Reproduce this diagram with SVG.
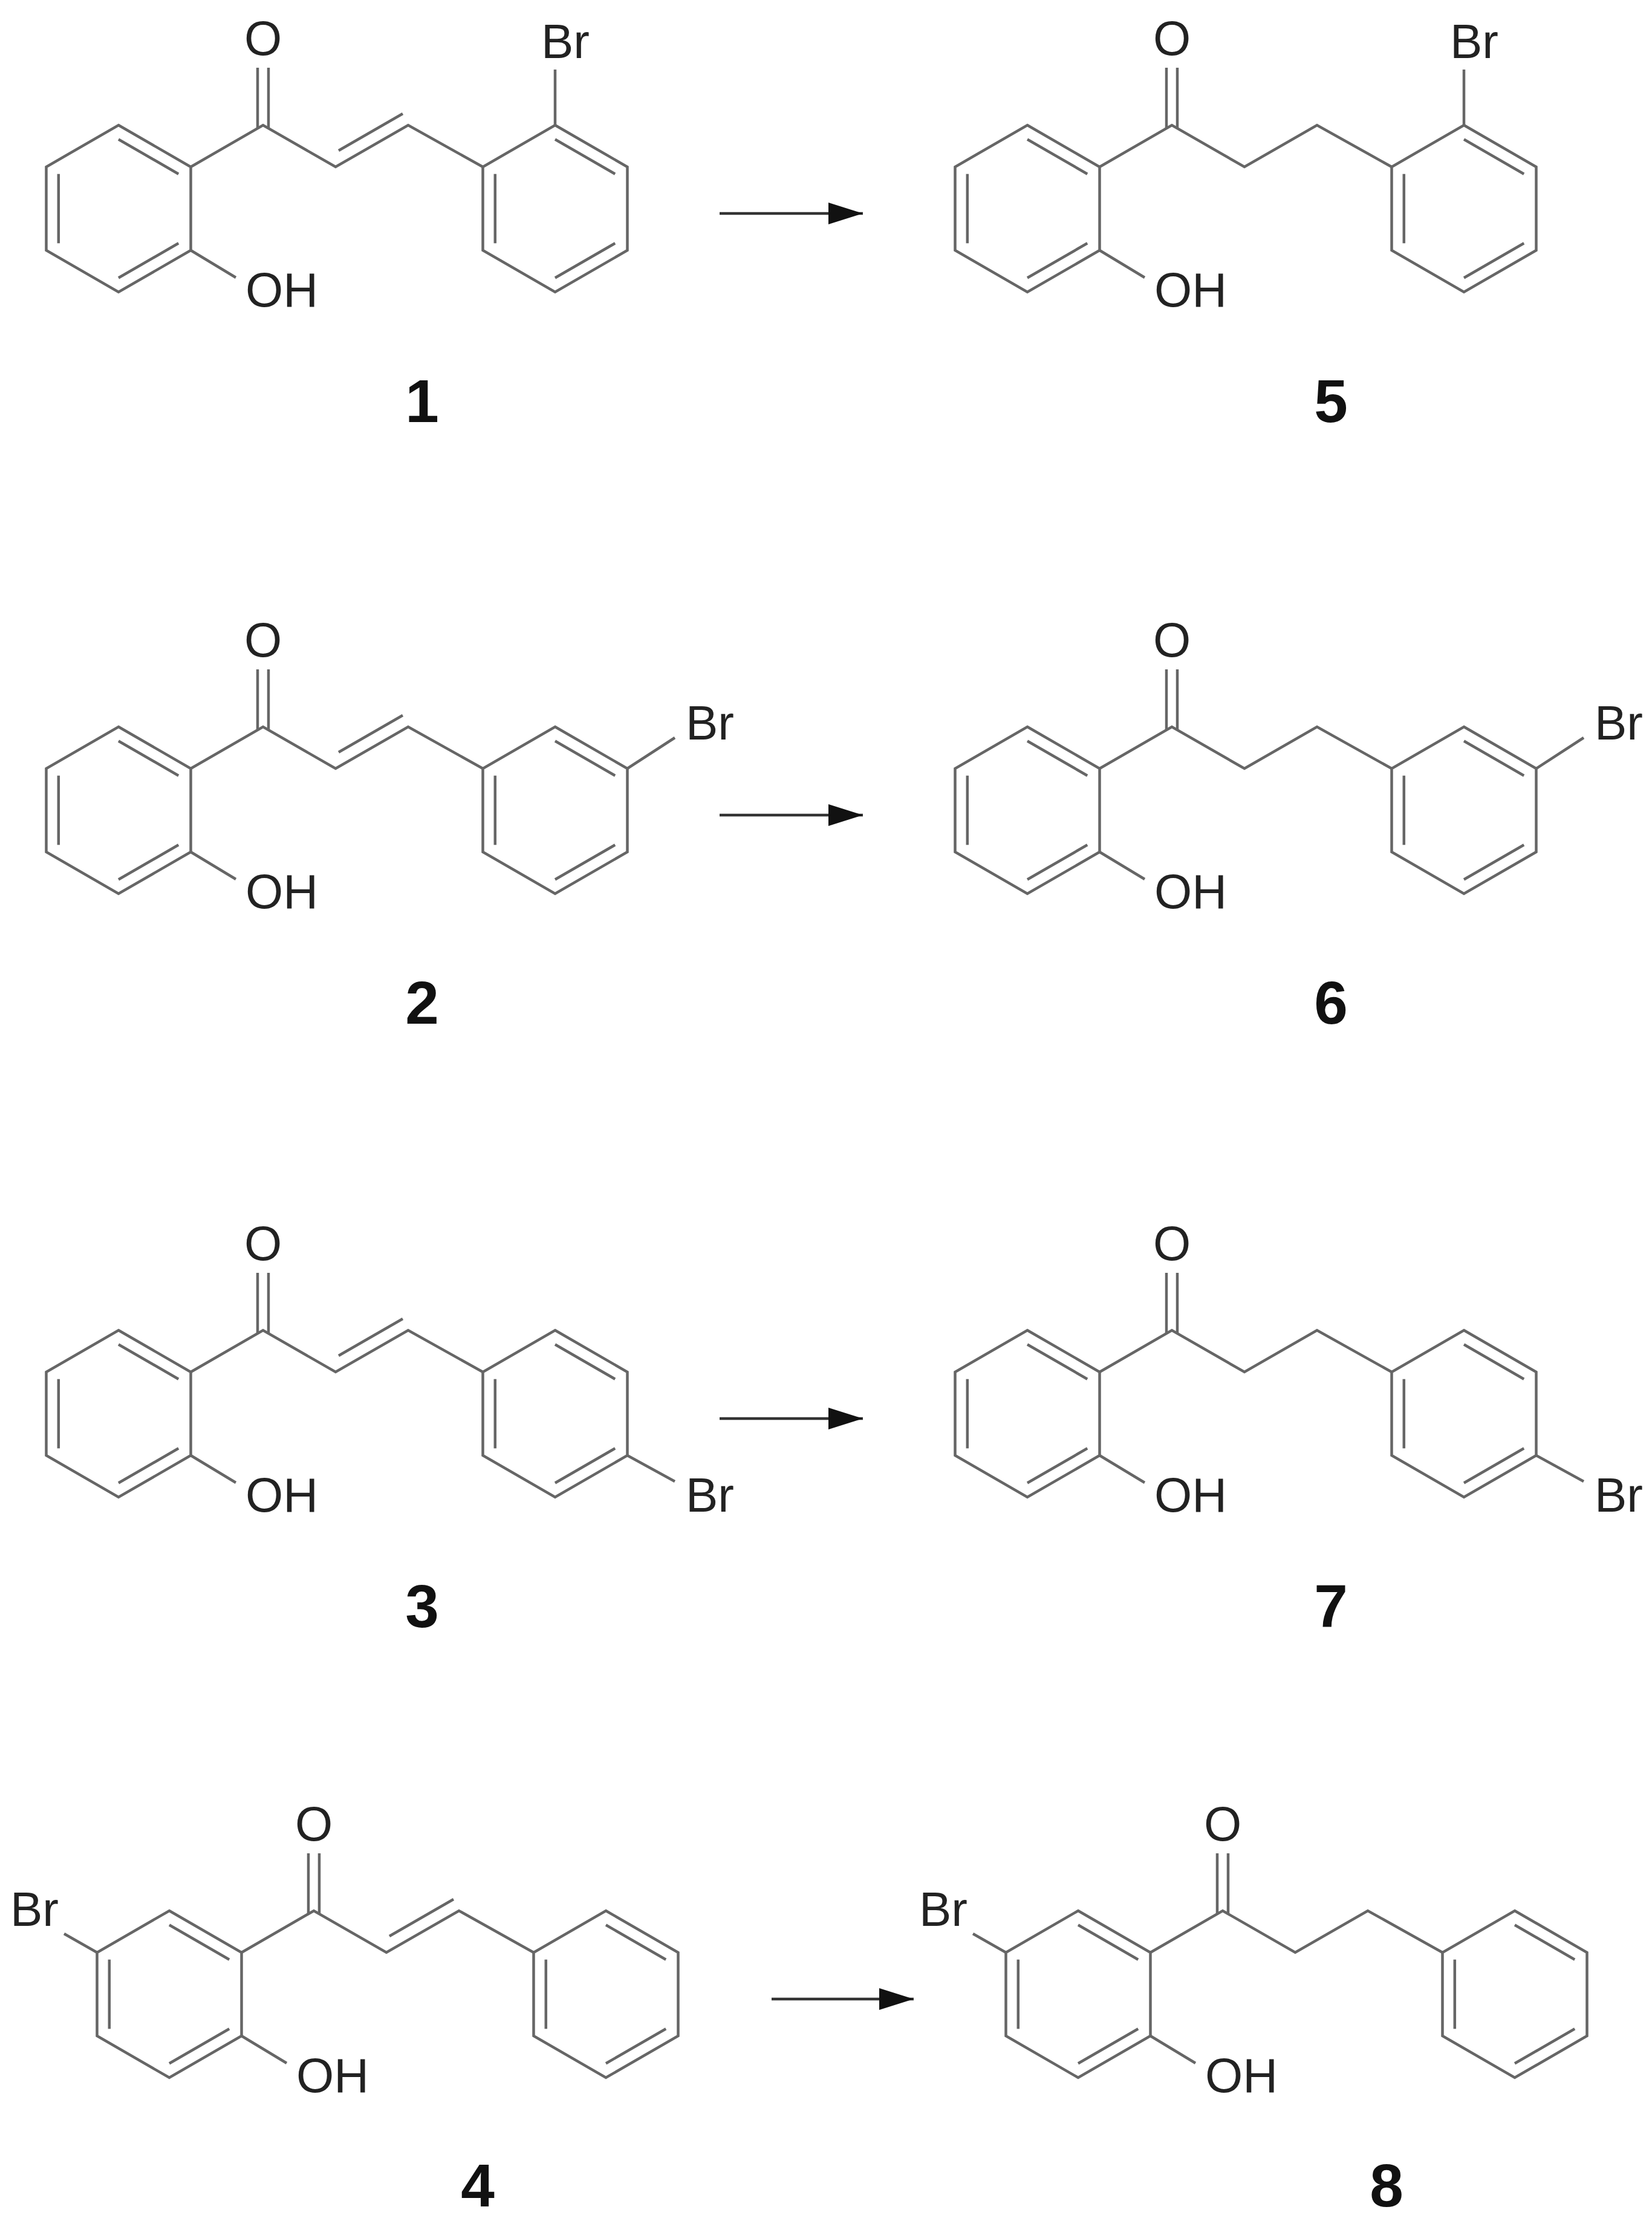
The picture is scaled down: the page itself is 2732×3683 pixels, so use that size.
<svg xmlns="http://www.w3.org/2000/svg" xmlns:xlink="http://www.w3.org/1999/xlink" width="2732" height="3683" viewBox="0 0 2732 3683">
<style>
.b{stroke:#666;stroke-width:4.5;fill:none;stroke-linejoin:miter;stroke-linecap:butt}
.t{font-family:"Liberation Sans",Arial,sans-serif;font-size:80px;fill:#222}
.n{font-family:"Liberation Sans",Arial,sans-serif;font-size:100px;font-weight:bold;fill:#111;text-anchor:middle}
.a{stroke:#333;stroke-width:4.5}
</style>
<defs>
<marker id="ah" markerUnits="userSpaceOnUse" markerWidth="60" markerHeight="40" refX="57" refY="18" orient="auto">
<polygon points="0,0 57,18 0,36" fill="#111"/>
</marker>
<g id="core">
<polygon class="b" points="196,207 315.5,276 315.5,414 196,483 76.5,414 76.5,276"/>
<line class="b" x1="196" y1="230.5" x2="295.2" y2="287.7"/>
<line class="b" x1="295.2" y1="402.3" x2="196" y2="459.5"/>
<line class="b" x1="96.8" y1="402.3" x2="96.8" y2="287.7"/>
<polyline class="b" points="315.5,276 435,207 555,276 675,207 798.5,276"/>
<line class="b" x1="426" y1="112" x2="426" y2="212"/>
<line class="b" x1="444" y1="112" x2="444" y2="212"/>
<polygon class="b" points="918,207 1037.5,276 1037.5,414 918,483 798.5,414 798.5,276"/>
<line class="b" x1="918" y1="230.5" x2="1017.2" y2="287.7"/>
<line class="b" x1="1017.2" y1="402.3" x2="918" y2="459.5"/>
<line class="b" x1="818.8" y1="402.3" x2="818.8" y2="287.7"/>
<line class="b" x1="315.5" y1="414" x2="390" y2="459"/>
<text class="t" x="435" y="91" text-anchor="middle">O</text>
<text class="t" x="406" y="507">OH</text>
</g>
<line id="ene" class="b" x1="560" y1="249" x2="666" y2="188"/>
</defs>

<g id="mol1"><use xlink:href="#core"/><use xlink:href="#ene"/>
<line class="b" x1="918" y1="207" x2="918" y2="115"/><text class="t" x="895" y="96">Br</text>
<text class="n" x="698" y="698">1</text></g>

<g id="mol5" transform="translate(1503,0)"><use xlink:href="#core"/>
<line class="b" x1="918" y1="207" x2="918" y2="115"/><text class="t" x="895" y="96">Br</text>
<text class="n" x="698" y="698">5</text></g>

<g id="mol2" transform="translate(0,995)"><use xlink:href="#core"/><use xlink:href="#ene"/>
<line class="b" x1="1037.5" y1="276" x2="1116" y2="225"/><text class="t" x="1134" y="228">Br</text>
<text class="n" x="698" y="698">2</text></g>

<g id="mol6" transform="translate(1503,995)"><use xlink:href="#core"/>
<line class="b" x1="1037.5" y1="276" x2="1116" y2="225"/><text class="t" x="1134" y="228">Br</text>
<text class="n" x="698" y="698">6</text></g>

<g id="mol3" transform="translate(0,1993)"><use xlink:href="#core"/><use xlink:href="#ene"/>
<line class="b" x1="1037.5" y1="414" x2="1116" y2="457"/><text class="t" x="1134" y="507">Br</text>
<text class="n" x="698" y="698">3</text></g>

<g id="mol7" transform="translate(1503,1993)"><use xlink:href="#core"/>
<line class="b" x1="1037.5" y1="414" x2="1116" y2="457"/><text class="t" x="1134" y="507">Br</text>
<text class="n" x="698" y="698">7</text></g>

<g id="mol4" transform="translate(84,2953)"><use xlink:href="#core"/><use xlink:href="#ene"/>
<line class="b" x1="76.5" y1="276" x2="22" y2="245"/><text class="t" x="-67" y="232">Br</text>
<text class="n" x="706" y="696">4</text></g>

<g id="mol8" transform="translate(1587,2953)"><use xlink:href="#core"/>
<line class="b" x1="76.5" y1="276" x2="22" y2="245"/><text class="t" x="-67" y="232">Br</text>
<text class="n" x="706" y="696">8</text></g>

<g id="connectors">
<line class="a" x1="1190" y1="353" x2="1427" y2="353" marker-end="url(#ah)"/>
<line class="a" x1="1190" y1="1348" x2="1427" y2="1348" marker-end="url(#ah)"/>
<line class="a" x1="1190" y1="2346" x2="1427" y2="2346" marker-end="url(#ah)"/>
<line class="a" x1="1276" y1="3306" x2="1511" y2="3306" marker-end="url(#ah)"/>
</g>
</svg>
